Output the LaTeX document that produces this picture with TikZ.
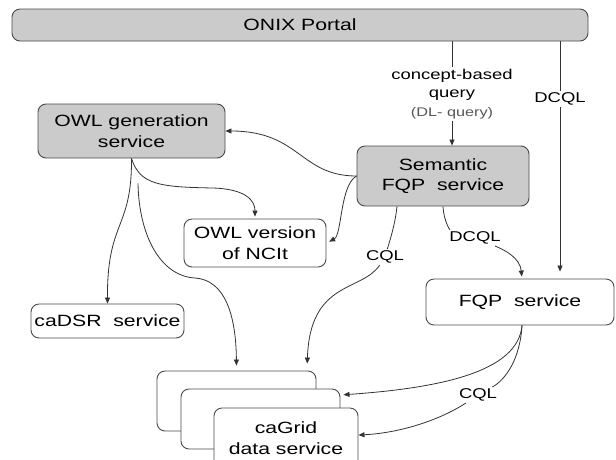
\documentclass[tikz,border=0pt]{standalone}
\usepackage{fontspec}
\setmainfont{Liberation Sans}[FakeStretch=1.3]
\usetikzlibrary{arrows.meta}
\definecolor{boxgray}{HTML}{CBCBCB}
\definecolor{edgegray}{HTML}{4A4A4A}
\definecolor{linegray}{HTML}{333333}
\definecolor{dlgray}{HTML}{555555}
\newcommand\bxfont{\fontsize{16.3}{20.5}\selectfont}
\newcommand\lbfont{\fontsize{14.2}{18.5}\selectfont}
\newcommand\dlfont{\fontsize{12.5}{15}\selectfont}
\begin{document}
\begin{tikzpicture}[x=1pt,y=-1pt,
  box/.style={draw=edgegray, line width=0.9pt, rounded corners=8pt, inner sep=0pt, align=center, font=\bxfont, text=black},
  graybox/.style={box, fill=boxgray},
  whitebox/.style={box, fill=white},
  lbl/.style={inner sep=1.5pt, font=\lbfont, align=center, text=black},
  conn/.style={draw=linegray, line width=0.8pt},
  arr/.style={conn, -{Triangle[length=6pt,width=5pt]}}]
\useasboundingbox (0,0) rectangle (616,459);
\clip (0,0) rectangle (616,459);

% boxes
\node[graybox, minimum width=576pt, minimum height=32pt] (portal) at (300,25) {ONIX Portal};
\node[graybox, minimum width=187pt, minimum height=54pt] (owlgen) at (131.5,131) {OWL generation\\service};
\node[whitebox, minimum width=142pt, minimum height=48pt] (owlver) at (255,243) {OWL version\\of NCIt};
\node[graybox, minimum width=172pt, minimum height=60pt] (sem) at (443,176) {Semantic\\FQP\ \ service};
\node[whitebox, minimum width=188pt, minimum height=46pt] (fqp) at (520,302) {FQP\ \ service};
\node[whitebox, minimum width=153pt, minimum height=34pt] (cadsr) at (107.5,321) {caDSR\ \ service};
\node[whitebox, minimum width=159pt, minimum height=60pt] (grid3) at (236.5,401) {};
\node[whitebox, minimum width=159pt, minimum height=60pt] (grid2) at (260.5,419) {};
\node[whitebox, minimum width=144pt, minimum height=60pt] (grid1) at (286,438) {caGrid\\data service};

% labels
\node[lbl] (lblc) at (452,94) {concept-based\\query\\{\dlfont\color{dlgray}(DL- query)}};
\node[lbl] (dcql1) at (560,99) {DCQL};
\node[lbl] (dcql2) at (475,238) {DCQL};
\node[lbl] (cql1) at (385,257) {CQL};
\node[lbl] (cql2) at (478,395) {CQL};

\coordinate (owlgenlow) at ([xshift=6.5pt,yshift=-25pt]owlgen.south);

% connectors
\draw[arr] (portal.south -| lblc) -- (lblc) -- (sem.north -| lblc);
\draw[arr, shorten >=7pt] (portal.south -| dcql1) -- (dcql1) -- (fqp.north -| dcql1);
\draw[arr] (sem.west) .. controls (300,176) and (300,131) .. (owlgen.east);
\draw[arr, shorten >=3pt] (sem.west) .. controls (340,185) and (342,235) .. (owlver.east);
\draw[arr, shorten >=2pt] (owlgen.south) .. controls (140,185) and (160,187) .. (213,188) .. controls (245,189) and (255,200) .. (owlver.north);
\draw[arr] (owlgen.south) .. controls (132,230) and (107,220) .. (cadsr.north);
\draw[arr, shorten >=5pt] (owlgenlow) .. controls (139,235) and (160,276) .. (195,278) .. controls (225,280) and (236,315) .. (grid3.north);
\draw[arr, shorten >=7pt] ([xshift=-46pt]sem.south) .. controls (395,225) and (390,240) .. (cql1) .. controls (362,292) and (310,280) .. ([xshift=70.5pt]grid3.north);
\draw[arr, shorten >=2pt] (sem.south) .. controls (444,222) and (450,230) .. (dcql2) .. controls (505,250) and (520,258) .. ([xshift=2pt]fqp.north);
\draw[arr, shorten >=3pt] ([xshift=2pt]fqp.south) .. controls (518,372) and (440,388) .. ([yshift=24pt]grid2.east);
\draw[arr] ([xshift=2pt]fqp.south) .. controls (520,360) and (505,380) .. (cql2) .. controls (440,420) and (400,433) .. ([yshift=3pt]grid1.east);
\end{tikzpicture}
\end{document}
